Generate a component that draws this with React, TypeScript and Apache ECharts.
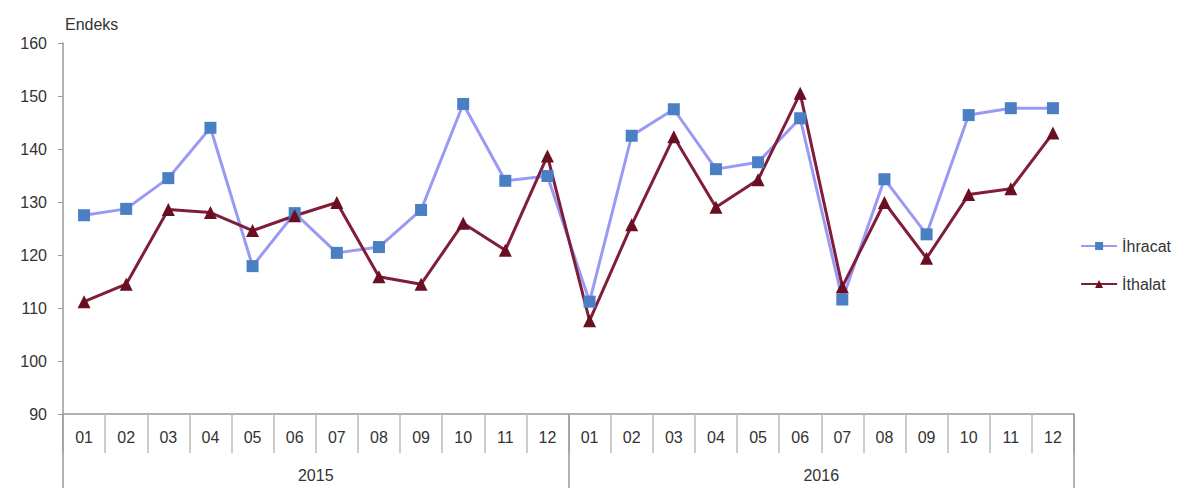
import React, { useEffect, useRef } from "react";
import * as echarts from "echarts";

const months = ["01","02","03","04","05","06","07","08","09","10","11","12","01","02","03","04","05","06","07","08","09","10","11","12"];
const years = ["2015", "2016"];
const ihracat = [127.5,128.7,134.5,144.0,117.9,127.9,120.4,121.5,128.5,148.5,134.0,134.9,111.2,142.5,147.5,136.2,137.5,145.8,111.6,134.3,123.9,146.4,147.7,147.7];
const ithalat = [111.2,114.5,128.6,128.0,124.6,127.4,129.9,115.9,114.5,126.0,120.9,138.7,107.6,125.7,142.3,129.0,134.2,150.5,114.0,129.9,119.4,131.4,132.5,143.0];
const yTicks = { min: 90, max: 160, interval: 10 };

const FONT = "'Liberation Sans', Arial, sans-serif";

export default function App() {
  const ref = useRef<HTMLDivElement>(null);
  useEffect(() => {
    const chart = echarts.init(ref.current!, null, { renderer: "svg" });
    chart.setOption({
      animation: false,
      textStyle: { fontFamily: FONT },
      grid: { left: 55, right: 112, top: 35, bottom: 74, containLabel: false },
      legend: {
        orient: "vertical",
        right: 10,
        top: 225,
        itemWidth: 36,
        itemHeight: 10,
        itemGap: 22,
        textStyle: { fontSize: 16, color: "#333", fontFamily: FONT },
        data: ["İhracat", "İthalat"],
      },
      graphic: [
        {
          type: "text",
          left: 57,
          top: 8,
          style: { text: "Endeks", fontSize: 16, fill: "#333", fontFamily: FONT },
        },
      ],
      xAxis: [
        {
          type: "category",
          data: months,
          boundaryGap: true,
          axisLine: { show: true, lineStyle: { color: "#999", width: 1.5 } },
          axisTick: { show: true, interval: 0, length: 39, lineStyle: { color: "#bbb", width: 1.5 } },
          axisLabel: { interval: 0, fontSize: 16, color: "#333", margin: 15, fontFamily: FONT },
        },
        {
          type: "category",
          data: years,
          position: "bottom",
          boundaryGap: true,
          axisLine: { show: false },
          axisTick: { show: true, interval: 0, length: 76, lineStyle: { color: "#999", width: 1.5 } },
          axisLabel: { interval: 0, fontSize: 16, color: "#333", margin: 53, fontFamily: FONT },
        },
      ],
      yAxis: {
        type: "value",
        min: yTicks.min,
        max: yTicks.max,
        interval: yTicks.interval,
        axisLine: { show: true, lineStyle: { color: "#999", width: 1.5 } },
        axisTick: { show: true, length: 5, lineStyle: { color: "#999" } },
        splitLine: { show: false },
        axisLabel: { fontSize: 16, color: "#333", margin: 16, fontFamily: FONT },
      },
      series: [
        {
          name: "İhracat",
          type: "line",
          data: ihracat,
          symbol: "rect",
          symbolSize: 12,
          lineStyle: { color: "#9A9AF5", width: 3 },
          itemStyle: { color: "#4A7FC4" },
        },
        {
          name: "İthalat",
          type: "line",
          data: ithalat,
          symbol: "triangle",
          symbolSize: 13,
          lineStyle: { color: "#7F1D3A", width: 3 },
          itemStyle: { color: "#6A0F22" },
        },
      ],
    });
    return () => chart.dispose();
  }, []);
  return <div ref={ref} style={{ width: 1178, height: 480 }} />;
}
